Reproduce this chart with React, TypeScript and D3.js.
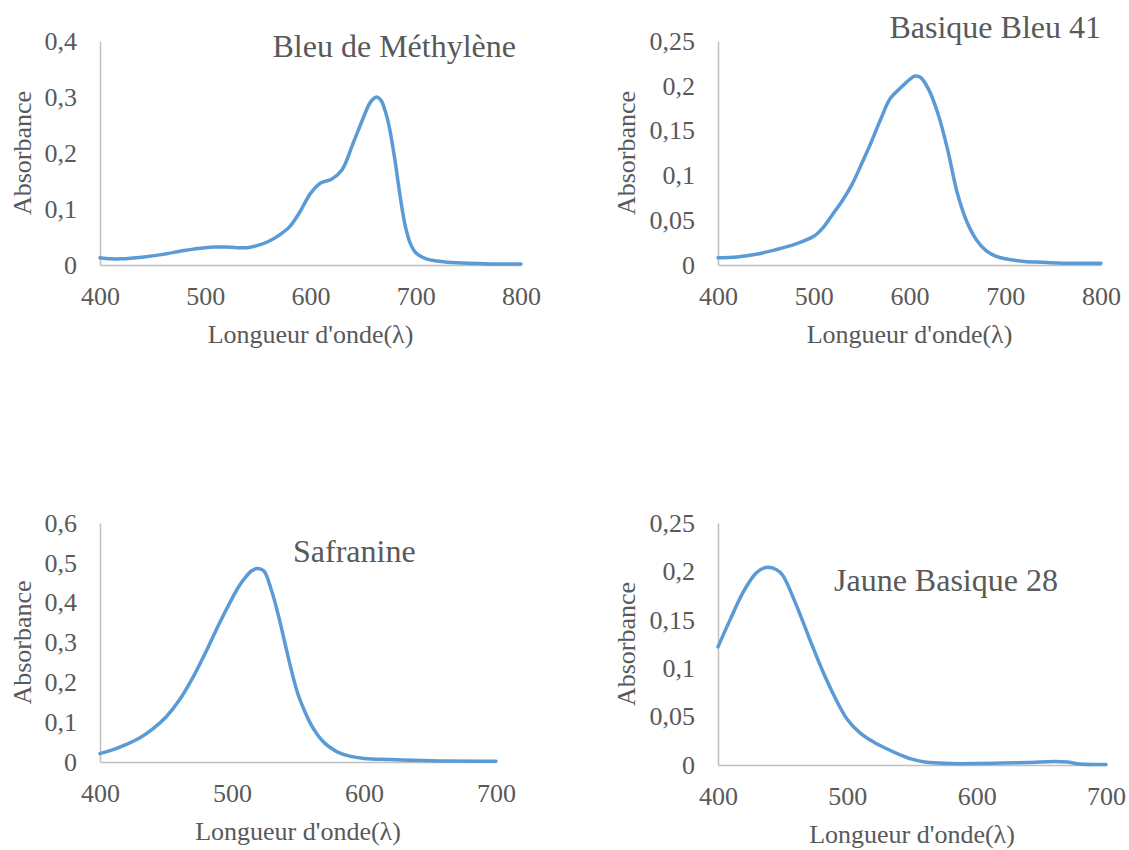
import React, { useEffect, useRef } from 'react';
import * as d3 from 'd3';

// Bleu de Méthylène
const mbWave = [400, 410, 420, 440, 460, 480, 500, 510, 520, 530, 540, 550, 560, 570, 580, 590, 600, 610, 620, 630, 640, 650, 656, 660, 663, 667, 671, 675, 680, 685, 690, 695, 700, 710, 720, 730, 750, 770, 800];
const mbAbs = [0.013, 0.011, 0.011, 0.014, 0.019, 0.026, 0.031, 0.032, 0.032, 0.031, 0.031, 0.035, 0.042, 0.053, 0.068, 0.095, 0.128, 0.147, 0.153, 0.17, 0.215, 0.262, 0.288, 0.297, 0.3, 0.294, 0.275, 0.245, 0.19, 0.125, 0.07, 0.038, 0.022, 0.011, 0.007, 0.005, 0.003, 0.002, 0.002];

// Basique Bleu 41
const bb41Wave = [400, 420, 440, 460, 480, 500, 510, 520, 530, 540, 550, 560, 570, 580, 590, 600, 606, 612, 620, 630, 640, 650, 660, 670, 680, 690, 700, 720, 740, 760, 800];
const bb41Abs = [0.008, 0.009, 0.012, 0.017, 0.023, 0.032, 0.042, 0.057, 0.072, 0.09, 0.113, 0.137, 0.163, 0.186, 0.197, 0.207, 0.211, 0.209, 0.196, 0.168, 0.128, 0.08, 0.048, 0.028, 0.016, 0.01, 0.007, 0.004, 0.003, 0.002, 0.002];

// Safranine
const safWave = [400, 410, 420, 430, 440, 450, 460, 470, 480, 490, 500, 505, 510, 515, 519, 524, 530, 535, 540, 545, 550, 555, 560, 565, 570, 575, 580, 590, 600, 620, 650, 700];
const safAbs = [0.021, 0.031, 0.044, 0.06, 0.083, 0.113, 0.155, 0.21, 0.275, 0.345, 0.41, 0.44, 0.463, 0.48, 0.486, 0.48, 0.43, 0.37, 0.3, 0.23, 0.17, 0.128, 0.093, 0.067, 0.048, 0.035, 0.025, 0.014, 0.009, 0.006, 0.003, 0.002];

// Jaune Basique 28
const jb28Wave = [400, 410, 420, 430, 437, 445, 450, 460, 470, 480, 490, 500, 510, 520, 530, 540, 550, 560, 580, 600, 620, 640, 660, 670, 680, 700];
const jb28Abs = [0.122, 0.152, 0.18, 0.199, 0.204, 0.202, 0.196, 0.167, 0.133, 0.1, 0.071, 0.047, 0.033, 0.024, 0.017, 0.011, 0.006, 0.003, 0.0015, 0.0015, 0.002, 0.0025, 0.0035, 0.003, 0.001, 0.0005];

const xTicksWide = [400, 500, 600, 700, 800];
const xTicksNarrow = [400, 500, 600, 700];
const yTicksMB = [0, 0.1, 0.2, 0.3, 0.4];
const yTicksBB = [0, 0.05, 0.1, 0.15, 0.2, 0.25];
const yTicksSaf = [0, 0.1, 0.2, 0.3, 0.4, 0.5, 0.6];
const yTicksJB = [0, 0.05, 0.1, 0.15, 0.2, 0.25];

const xLabel = "Longueur d'onde(λ)";
const yLabel = 'Absorbance';

const FONT = '"Liberation Serif", "Times New Roman", serif';
const TEXT = '#595959';
const LINE = '#5B9BD5';
const AXIS = '#BFBFBF';

const panels = [
  { title: 'Bleu de Méthylène', wave: mbWave, abs: mbAbs, xTicks: xTicksWide, yTicks: yTicksMB,
    box: { left: 100, right: 521, top: 41, bottom: 265 }, titlePos: { x: 516, y: 57, anchor: 'end' }, xTitleY: 343 },
  { title: 'Basique Bleu 41', wave: bb41Wave, abs: bb41Abs, xTicks: xTicksWide, yTicks: yTicksBB,
    box: { left: 718, right: 1101, top: 41, bottom: 265 }, titlePos: { x: 1101, y: 38, anchor: 'end' }, xTitleY: 343 },
  { title: 'Safranine', wave: safWave, abs: safAbs, xTicks: xTicksNarrow, yTicks: yTicksSaf,
    box: { left: 100, right: 496, top: 523, bottom: 762 }, titlePos: { x: 293, y: 562, anchor: 'start' }, xTitleY: 840 },
  { title: 'Jaune Basique 28', wave: jb28Wave, abs: jb28Abs, xTicks: xTicksNarrow, yTicks: yTicksJB,
    box: { left: 718, right: 1106, top: 523, bottom: 765 }, titlePos: { x: 834, y: 591, anchor: 'start' }, xTitleY: 843 },
];

const fmt = (v) => String(+v.toFixed(2)).replace('.', ',');

const App = () => {
  const svgRef = useRef(null);

  useEffect(() => {
    document.body.style.margin = '0';
    const svg = d3.select(svgRef.current);
    svg.selectAll('*').remove();

    panels.forEach(p => {
      const { left, right, top, bottom } = p.box;
      const x = d3.scaleLinear()
        .domain([p.xTicks[0], p.xTicks[p.xTicks.length - 1]])
        .range([left, right]);
      const y = d3.scaleLinear()
        .domain([0, p.yTicks[p.yTicks.length - 1]])
        .range([bottom, top]);

      const g = svg.append('g');

      // y axis
      const yAxis = g.append('g')
        .attr('transform', `translate(${left},0)`)
        .call(d3.axisLeft(y).tickValues(p.yTicks).tickSize(0).tickPadding(23).tickFormat(fmt));
      yAxis.select('.domain').attr('stroke', AXIS).attr('stroke-width', 1.5);

      // x axis
      const xAxis = g.append('g')
        .attr('transform', `translate(0,${bottom})`)
        .call(d3.axisBottom(x).tickValues(p.xTicks).tickSize(0).tickPadding(22).tickFormat(d3.format('d')));
      xAxis.select('.domain').attr('stroke', AXIS).attr('stroke-width', 1.5);

      g.selectAll('.tick text')
        .attr('fill', TEXT)
        .style('font-family', FONT)
        .style('font-size', '26px');

      // the spectrum, smoothed like the spreadsheet line
      const pts = p.wave.map((w, i) => [w, p.abs[i]]);
      const line = d3.line()
        .x(d => x(d[0]))
        .y(d => y(d[1]))
        .curve(d3.curveCatmullRom.alpha(0.5));
      g.append('path')
        .datum(pts)
        .attr('d', line)
        .attr('fill', 'none')
        .attr('stroke', LINE)
        .attr('stroke-width', 3.5)
        .attr('stroke-linecap', 'round')
        .attr('stroke-linejoin', 'round');

      // axis titles
      g.append('text')
        .attr('x', (left + right) / 2)
        .attr('y', p.xTitleY)
        .attr('text-anchor', 'middle')
        .attr('fill', TEXT)
        .style('font-family', FONT)
        .style('font-size', '26px')
        .text(xLabel);

      const yMid = (top + bottom) / 2;
      const yTitleX = left === 100 ? 22 : 626;
      g.append('text')
        .attr('transform', `translate(${yTitleX},${yMid}) rotate(-90)`)
        .attr('text-anchor', 'middle')
        .attr('dy', '0.35em')
        .attr('fill', TEXT)
        .style('font-family', FONT)
        .style('font-size', '26px')
        .text(yLabel);

      // chart title
      g.append('text')
        .attr('x', p.titlePos.x)
        .attr('y', p.titlePos.y)
        .attr('text-anchor', p.titlePos.anchor)
        .attr('fill', TEXT)
        .style('font-family', FONT)
        .style('font-size', '32px')
        .text(p.title);
    });
  }, []);

  return (
    <svg ref={svgRef} width={1129} height={850} style={{ display: 'block', background: '#fff' }} />
  );
};

export default App;
